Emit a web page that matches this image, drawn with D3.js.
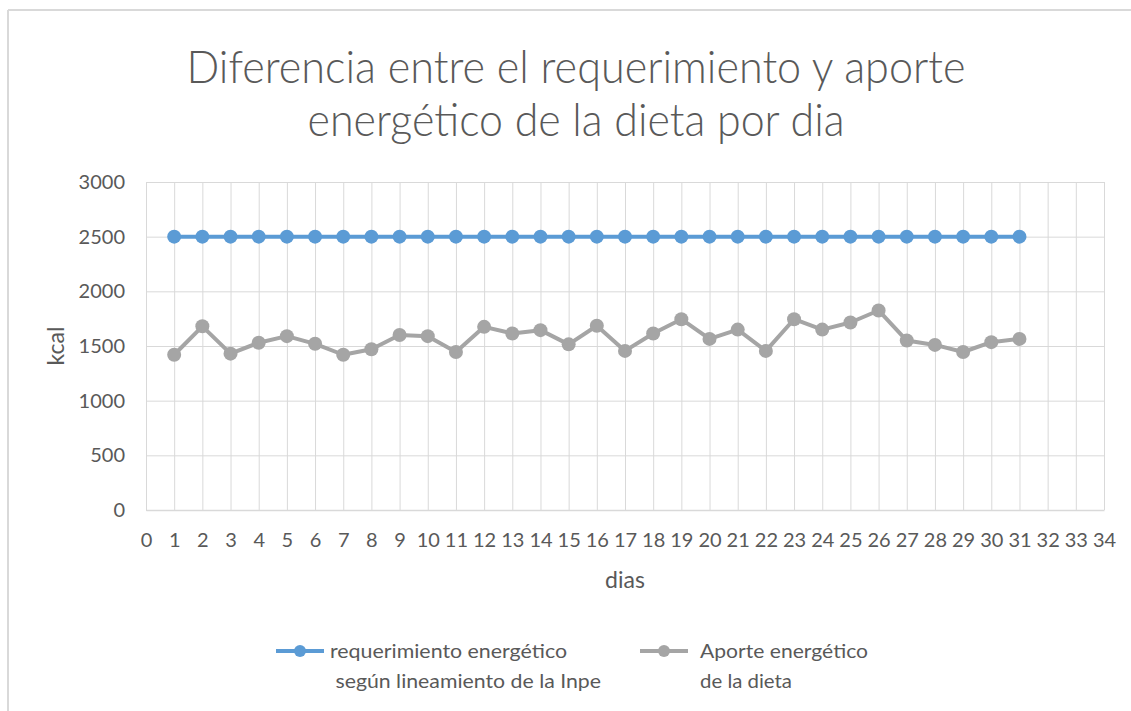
<!DOCTYPE html>
<html>
<head>
<meta charset="utf-8">
<script src="https://cdn.jsdelivr.net/npm/d3@7"></script>
<style>
  html, body { margin: 0; padding: 0; background: #fff; }
  svg { display: block; }
  text { font-family: Lato, "Open Sans", sans-serif; fill: #595959; }
</style>
</head>
<body>
<svg id="chart" width="1131" height="711"></svg>
<script>
const titleLines = ["Diferencia entre el requerimiento y aporte", "energético de la dieta por dia"];
const days = d3.range(1, 32);
const requerimiento = [2500,2500,2500,2500,2500,2500,2500,2500,2500,2500,2500,2500,2500,2500,2500,2500,2500,2500,2500,2500,2500,2500,2500,2500,2500,2500,2500,2500,2500,2500,2500];
const aporte = [1420,1680,1430,1530,1590,1520,1420,1470,1600,1590,1445,1675,1615,1645,1515,1685,1455,1615,1745,1565,1650,1455,1745,1650,1715,1825,1550,1510,1445,1535,1565];
const xTicks = d3.range(0, 35);
const yTicks = [0, 500, 1000, 1500, 2000, 2500, 3000];
const seriesNames = [["requerimiento energético", " según lineamiento de la Inpe"], ["Aporte energético", "de la dieta"]];
const colors = ["#5B9BD5", "#A5A5A5"];

const svg = d3.select("#chart");
const W = 1131, H = 711;
const plot = { left: 146, right: 1104, top: 182, bottom: 510 };

// outer chart border (top and left visible)
svg.append("line").attr("x1", 8).attr("x2", W).attr("y1", 10).attr("y2", 10)
  .attr("stroke", "#d9d9d9").attr("stroke-width", 2);
svg.append("line").attr("x1", 8).attr("x2", 8).attr("y1", 10).attr("y2", H)
  .attr("stroke", "#d9d9d9").attr("stroke-width", 2);

const x = d3.scaleLinear().domain([0, 34]).range([plot.left, plot.right]);
const y = d3.scaleLinear().domain([0, 3000]).range([plot.bottom, plot.top]);

// title
const titleBase = [83, 136];
const titleWidths = [779, 537];
titleLines.forEach((t, i) => {
  svg.append("text").attr("x", 576).attr("y", titleBase[i])
    .attr("text-anchor", "middle").attr("font-size", 46).attr("font-weight", 300)
    .attr("textLength", titleWidths[i]).attr("lengthAdjust", "spacingAndGlyphs")
    .text(t);
});

// gridlines
const grid = svg.append("g");
grid.selectAll("line.h").data(yTicks).join("line")
  .attr("x1", plot.left).attr("x2", plot.right)
  .attr("y1", d => y(d) + 0.5).attr("y2", d => y(d) + 0.5)
  .attr("stroke", "#d9d9d9").attr("stroke-width", 1);
grid.selectAll("line.v").data(xTicks).join("line")
  .attr("x1", d => x(d) + 0.5).attr("x2", d => x(d) + 0.5)
  .attr("y1", plot.top).attr("y2", plot.bottom)
  .attr("stroke", "#d9d9d9").attr("stroke-width", 1);

// y axis
const yAxis = svg.append("g").attr("transform", `translate(${plot.left},0)`)
  .call(d3.axisLeft(y).tickValues(yTicks).tickFormat(d3.format("d")).tickSize(0).tickPadding(21));
yAxis.select(".domain").remove();
yAxis.selectAll("text").attr("font-size", 20).attr("fill", "#595959")
  .style("font-family", "Lato, 'Open Sans', sans-serif");

// x axis
const xAxis = svg.append("g").attr("transform", `translate(0,${plot.bottom})`)
  .call(d3.axisBottom(x).tickValues(xTicks).tickFormat(d3.format("d")).tickSize(0).tickPadding(23));
xAxis.select(".domain").attr("stroke", "#d9d9d9").attr("stroke-width", 1.5);
xAxis.selectAll("text").attr("font-size", 20).attr("fill", "#595959")
  .style("font-family", "Lato, 'Open Sans', sans-serif");

// axis titles
svg.append("text").attr("x", 625).attr("y", 588).attr("text-anchor", "middle")
  .attr("font-size", 23).text("dias");
svg.append("text").attr("transform", "translate(64,346) rotate(-90)")
  .attr("text-anchor", "middle").attr("font-size", 23).text("kcal");

// series
const series = [requerimiento, aporte];
const line = d3.line().x((d, i) => x(days[i])).y(d => y(d));
series.forEach((s, k) => {
  svg.append("path").datum(s).attr("d", line).attr("fill", "none")
    .attr("stroke", colors[k]).attr("stroke-width", 4).attr("stroke-linejoin", "round");
  svg.append("g").selectAll("circle").data(s).join("circle")
    .attr("cx", (d, i) => x(days[i])).attr("cy", d => y(d)).attr("r", 7)
    .attr("fill", colors[k]);
});

// legend
const legendX = [276, 640];
const legendTextX = [[330, 330], [700, 700]];
const legendWidths = [[237, 271], [168, 92]];
seriesNames.forEach((names, k) => {
  const lx = legendX[k], ly = 651;
  svg.append("line").attr("x1", lx).attr("x2", lx + 48).attr("y1", ly).attr("y2", ly)
    .attr("stroke", colors[k]).attr("stroke-width", 4);
  svg.append("circle").attr("cx", lx + 24).attr("cy", ly).attr("r", 6).attr("fill", colors[k]);
  names.forEach((n, j) => {
    svg.append("text").attr("x", legendTextX[k][j]).attr("y", ly + 7 + j * 30)
      .attr("font-size", 20).attr("xml:space", "preserve").style("white-space", "pre")
      .attr("textLength", legendWidths[k][j]).attr("lengthAdjust", "spacingAndGlyphs")
      .text(n);
  });
});
</script>
</body>
</html>
